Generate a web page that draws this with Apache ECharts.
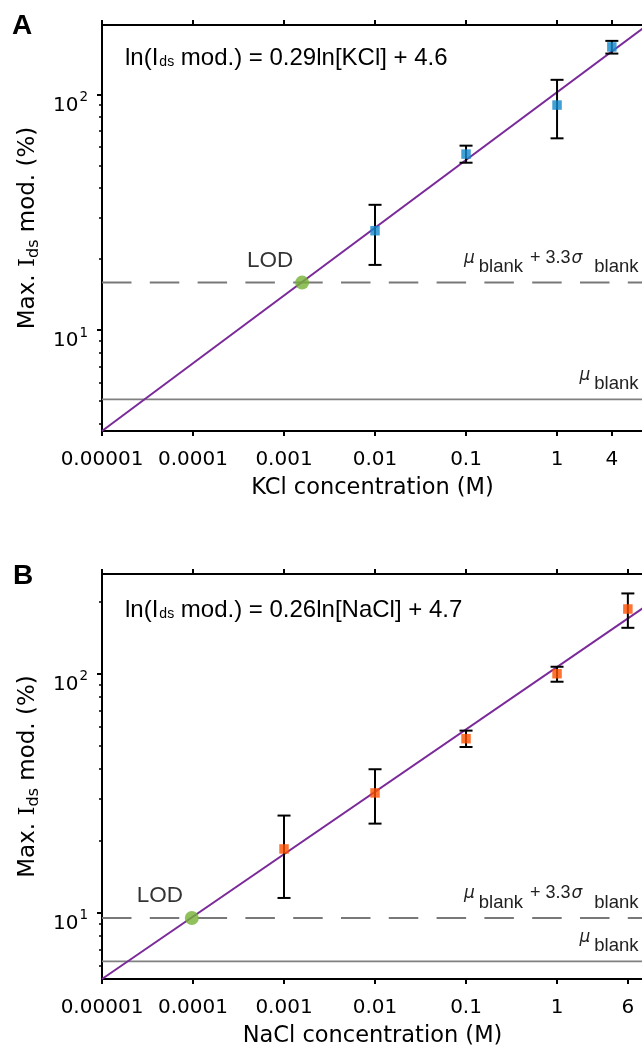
<!DOCTYPE html>
<html><head><meta charset="utf-8">
<script src="https://cdn.jsdelivr.net/npm/echarts@6/dist/echarts.min.js"></script>
<style>html,body{margin:0;padding:0;background:#fff}#c{width:642px;height:1047px}</style>
</head><body><div id="c"></div>
<script>
// ---------- data ----------
const xTickValuesA = [0.00001, 0.0001, 0.001, 0.01, 0.1, 1, 4];
const xTickTextA   = ['0.00001', '0.0001', '0.001', '0.01', '0.1', '1', '4'];
const xTickValuesB = [0.00001, 0.0001, 0.001, 0.01, 0.1, 1, 6];
const xTickTextB   = ['0.00001', '0.0001', '0.001', '0.01', '0.1', '1', '6'];
const yMajorTicks  = [10, 100];
const yMinorTicksA = [4, 5, 6, 7, 8, 9, 20, 30, 40, 50, 60, 70, 80, 90];
const yMinorTicksB = [6, 7, 8, 9, 20, 30, 40, 50, 60, 70, 80, 90, 200];
const xRange  = [0.00001, 8.8];
const yRangeA = [3.73, 197];
const yRangeB = [5.3, 260];

// Panel A: KCl
const kclConc = [0.01, 0.1, 1, 4];
const kclMean = [26.4, 55.8, 90.1, 159];
const kclHigh = [34.0, 60.6, 115.3, 168.7];
const kclLow  = [18.9, 51.3, 65.1, 149];
const kclFitX = [0.00001, 8.8];
const kclFitY = [3.73, 191];
const kclLOD  = [0.00158, 15.9];
const kclBlank = 5.08;
const kclThreshold = 15.9;
const kclEquation = ['ln(I', 'ds', ' mod.) = 0.29ln[KCl] + 4.6'];

// Panel B: NaCl
const naclConc = [0.001, 0.01, 0.1, 1, 6];
const naclMean = [18.5, 31.7, 53.4, 99.7, 185.7];
const naclHigh = [25.5, 39.8, 57.7, 106.6, 215.7];
const naclLow  = [11.55, 23.6, 49.3, 92.3, 155];
const naclFitX = [0.00001, 8.8];
const naclFitY = [5.3, 187.5];
const naclLOD  = [0.000097, 9.53];
const naclBlank = 6.28;
const naclThreshold = 9.53;
const naclEquation = ['ln(I', 'ds', ' mod.) = 0.26ln[NaCl] + 4.7'];

// ---------- styles ----------
const PURPLE = '#7b2a99', BLUE = '#1288cc', ORANGE = '#ff5000', GREEN = '#76b134';
const TICKFONT = 'DejaVu Sans';

function xFormatter(values, texts) {
  return function (v) {
    for (let i = 0; i < values.length; i++) {
      if (Math.abs(Math.log10(v) - Math.log10(values[i])) < 1e-6) return texts[i];
    }
    return '';
  };
}
function yFormatter(v) {
  const e = Math.round(Math.log10(v));
  return '{b|10}{sup|' + e + '}';
}

function xAxes(grid, vals, texts, name) {
  const common = {
    type: 'log', logBase: 10, gridIndex: grid, min: xRange[0], max: xRange[1],
    axisLine: { show: true, lineStyle: { color: '#000', width: 2 } },
    axisTick: { show: true, inside: false, length: 5, customValues: vals, lineStyle: { color: '#000', width: 2 } },
    splitLine: { show: false }, minorTick: { show: false }, minorSplitLine: { show: false }
  };
  return [
    Object.assign({}, common, {
      position: 'bottom',
      axisLabel: { show: true, customValues: vals, formatter: xFormatter(vals, texts), margin: 19,
                   color: '#000', fontFamily: TICKFONT, fontSize: 20 },
      name: name, nameLocation: 'middle', nameGap: 46,
      nameTextStyle: { color: '#000', fontFamily: TICKFONT, fontSize: 22.5 }
    }),
    Object.assign({}, common, { position: 'top', axisLabel: { show: false } })
  ];
}

function yAxes(grid, range, minors) {
  return [
    {
      type: 'log', logBase: 10, gridIndex: grid, min: range[0], max: range[1], position: 'left',
      axisLine: { show: true, lineStyle: { color: '#000', width: 2 } },
      axisTick: { show: true, inside: false, length: 5, customValues: yMajorTicks, lineStyle: { color: '#000', width: 2 } },
      axisLabel: {
        show: true, customValues: yMajorTicks, formatter: yFormatter, margin: 14, color: '#000',
        rich: {
          b: { fontFamily: TICKFONT, fontSize: 20, lineHeight: 20, color: '#000', verticalAlign: 'top', padding: [11, 0, 0, 0] },
          sup: { fontFamily: TICKFONT, fontSize: 13.5, lineHeight: 13.5, color: '#000', verticalAlign: 'top', padding: [6, 0, 0, 1] }
        }
      },
      splitLine: { show: false }, minorTick: { show: false },
      name: '{a|Max. }{i|I}{s|ds}{a| mod. (%)}', nameLocation: 'middle', nameRotate: 90, nameGap: 62,
      nameTextStyle: {
        color: '#000',
        rich: {
          a: { fontFamily: TICKFONT, fontSize: 23, lineHeight: 23, color: '#000', verticalAlign: 'top' },
          i: { fontFamily: 'DejaVu Serif', fontSize: 23, lineHeight: 23, color: '#000', verticalAlign: 'top' },
          s: { fontFamily: TICKFONT, fontSize: 16, lineHeight: 16, color: '#000', verticalAlign: 'top', padding: [10, 0, 0, 0] }
        }
      }
    },
    {
      type: 'log', logBase: 10, gridIndex: grid, min: range[0], max: range[1], position: 'left',
      axisLine: { show: false },
      axisTick: { show: true, inside: false, length: 3, customValues: minors, lineStyle: { color: '#000', width: 1.5 } },
      axisLabel: { show: false }, splitLine: { show: false }, minorTick: { show: false }
    }
  ];
}

function panelSeries(xi, yi, conc, mean, low, high, fitX, fitY, lod, blank, thr, color) {
  return [
    { type: 'line', xAxisIndex: xi, yAxisIndex: yi, data: [[xRange[0], blank], [xRange[1], blank]],
      showSymbol: false, symbol: 'none', lineStyle: { color: '#808080', width: 1.6 }, z: 1, silent: true },
    { type: 'line', xAxisIndex: xi, yAxisIndex: yi, data: [[xRange[0], thr], [xRange[1], thr]],
      showSymbol: false, symbol: 'none', lineStyle: { color: '#787878', width: 2, type: [29.5, 18.3] }, z: 1, silent: true },
    { type: 'line', xAxisIndex: xi, yAxisIndex: yi, data: fitX.map((x, i) => [x, fitY[i]]),
      showSymbol: false, symbol: 'none', lineStyle: { color: PURPLE, width: 2 }, z: 2, silent: true },
    { type: 'custom', xAxisIndex: xi, yAxisIndex: yi, z: 3,
      data: conc.map((c, i) => [c, low[i], high[i]]),
      encode: { x: 0, y: [1, 2] },
      renderItem: function (params, api) {
        const x = api.value(0);
        const lo = api.coord([x, api.value(1)]);
        const hi = api.coord([x, api.value(2)]);
        const w = 6.5, st = { stroke: '#000', lineWidth: 2 };
        return { type: 'group', children: [
          { type: 'line', shape: { x1: lo[0], y1: lo[1], x2: hi[0], y2: hi[1] }, style: st },
          { type: 'line', shape: { x1: lo[0] - w, y1: lo[1], x2: lo[0] + w, y2: lo[1] }, style: st },
          { type: 'line', shape: { x1: hi[0] - w, y1: hi[1], x2: hi[0] + w, y2: hi[1] }, style: st }
        ]};
      }
    },
    { type: 'scatter', xAxisIndex: xi, yAxisIndex: yi, data: conc.map((c, i) => [c, mean[i]]),
      symbol: 'rect', symbolSize: 9.5, itemStyle: { color: color }, z: 4 },
    { type: 'scatter', xAxisIndex: xi, yAxisIndex: yi, data: [lod],
      symbol: 'circle', symbolSize: 14, itemStyle: { color: GREEN }, z: 5,
      label: { show: true, position: 'inside', offset: [-32, -22], formatter: 'LOD',
               fontFamily: 'Liberation Sans', fontSize: 22.5, color: '#000' } }
  ];
}

const chart = echarts.init(document.getElementById('c'), null, { renderer: 'canvas' });

const grids = [
  { left: 102, top: 25, width: 541, height: 406, outerBoundsMode: 'none', containLabel: false },
  { left: 102, top: 574, width: 541, height: 405, outerBoundsMode: 'none', containLabel: false }
];

const option = {
  animation: false,
  backgroundColor: '#fff',
  grid: grids,
  xAxis: [].concat(xAxes(0, xTickValuesA, xTickTextA, 'KCl concentration (M)'),
                   xAxes(1, xTickValuesB, xTickTextB, 'NaCl concentration (M)')),
  yAxis: [].concat(yAxes(0, yRangeA, yMinorTicksA), yAxes(1, yRangeB, yMinorTicksB)),
  series: [].concat(
    panelSeries(0, 0, kclConc, kclMean, kclLow, kclHigh, kclFitX, kclFitY, kclLOD, kclBlank, kclThreshold, BLUE),
    panelSeries(2, 2, naclConc, naclMean, naclLow, naclHigh, naclFitX, naclFitY, naclLOD, naclBlank, naclThreshold, ORANGE)
  )
};
chart.setOption(option);

// ---------- annotations anchored to the axes ----------
function eqText(parts, x, y) {
  return { type: 'text', x: x, y: y, style: {
    text: '{a|' + parts[0] + '}{s|' + parts[1] + '}{a|' + parts[2] + '}',
    align: 'left', verticalAlign: 'top',
    rich: {
      a: { fontFamily: 'Liberation Sans', fontSize: 24, lineHeight: 24, fill: '#000', verticalAlign: 'top' },
      s: { fontFamily: 'Liberation Sans', fontSize: 14, lineHeight: 14, fill: '#000', verticalAlign: 'top', padding: [9, 0, 0, 1] }
    } } };
}
function muText(withSigma, yLine) {
  const txt = withSigma ? '{m|μ}{s|blank}{n| + 3.3}{g|σ}{s|blank}' : '{m|μ}{s|blank}';
  return { type: 'text', x: 638.5, y: yLine - 33.6, style: {
    text: txt, align: 'right', verticalAlign: 'top',
    rich: {
      m: { fontFamily: 'DejaVu Sans', fontStyle: 'italic', fontSize: 17, lineHeight: 17, fill: '#222', verticalAlign: 'top', padding: [1, 4, 0, 0] },
      g: { fontFamily: 'DejaVu Sans', fontStyle: 'italic', fontSize: 17, lineHeight: 17, fill: '#222', verticalAlign: 'top', padding: [1, 12, 0, 1] },
      n: { fontFamily: 'Liberation Sans', fontSize: 18, lineHeight: 18, fill: '#222', verticalAlign: 'top', padding: [0, 0, 0, 2] },
      s: { fontFamily: 'Liberation Sans', fontSize: 18.5, lineHeight: 18.5, fill: '#222', verticalAlign: 'top', padding: [8.6, 0, 0, 0] }
    } } };
}
function yPix(gridIdx, val) {
  return chart.convertToPixel({ xAxisIndex: gridIdx * 2, yAxisIndex: gridIdx * 2 }, [1, val])[1];
}
const panelLetter = (t, x, y) => ({ type: 'text', x: x, y: y, style: {
  text: t, fontFamily: 'Liberation Sans', fontWeight: 'bold', fontSize: 28, fill: '#000', verticalAlign: 'top' } });

chart.setOption({ graphic: [
  panelLetter('A', 12, 12),
  panelLetter('B', 13, 562),
  eqText(kclEquation, 125, 46),
  eqText(naclEquation, 125, 598),
  muText(true, yPix(0, kclThreshold)),
  muText(false, yPix(0, kclBlank)),
  muText(true, yPix(1, naclThreshold)),
  muText(false, yPix(1, naclBlank))
] });
</script>
</body></html>
